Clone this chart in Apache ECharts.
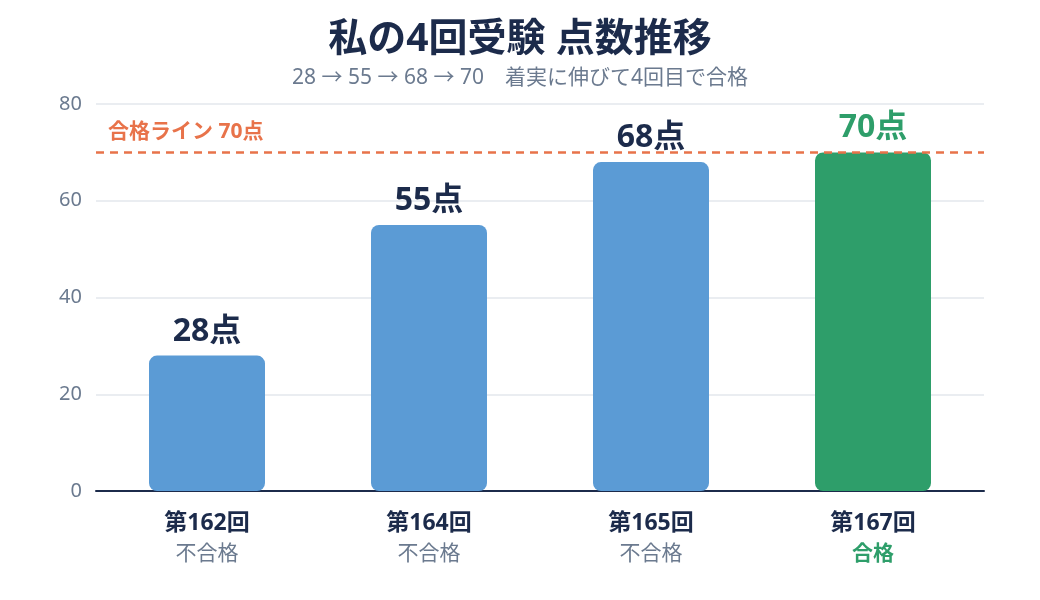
<!DOCTYPE html>
<html>
<head>
  <meta charset="utf-8" />
  <style>
    html, body { margin: 0; width: 100%; height: 100%; background: #fff; }
    #chart { width: 1040px; height: 600px; }
  </style>
  <script src="https://cdn.jsdelivr.net/npm/echarts@6/dist/echarts.min.js"></script>
</head>
<body>
  <div id="chart"></div>
  <script>
    const sessions = ['第162回', '第164回', '第165回', '第167回'];
    const results = ['不合格', '不合格', '不合格', '合格'];
    const scores = [28, 55, 68, 70];
    const passLine = 70;

    const navy = '#1c2b4b';
    const blue = '#5b9bd5';
    const green = '#2e9e6a';
    const orange = '#e8734a';
    const gray = '#6b7a8f';
    const font = '"Noto Sans", "Noto Sans CJK JP", sans-serif';

    const chart = echarts.init(document.getElementById('chart'));

    chart.setOption({
      animation: false,
      textStyle: { fontFamily: font },
      title: {
        text: '私の4回受験 点数推移',
        subtext: '28 → 55 → 68 → 70　着実に伸びて4回目で合格',
        left: 'center',
        top: 15,
        itemGap: 9,
        textStyle: { fontSize: 39, fontWeight: 'bold', color: navy, fontFamily: font },
        subtextStyle: { fontSize: 21, color: gray, fontFamily: font }
      },
      grid: { left: 96, right: 56, top: 104, bottom: 109 },
      xAxis: {
        type: 'category',
        data: sessions,
        axisLine: { lineStyle: { color: navy, width: 2 } },
        axisTick: { show: false },
        axisLabel: {
          margin: 16,
          interval: 0,
          formatter: function (v, i) {
            return '{s|' + v + '}\n' + (results[i] === '合格' ? '{p|' : '{f|') + results[i] + '}';
          },
          rich: {
            s: { fontSize: 23, fontWeight: 'bold', color: navy, lineHeight: 32, fontFamily: font },
            f: { fontSize: 21, color: gray, lineHeight: 30, fontFamily: font },
            p: { fontSize: 21, fontWeight: 'bold', color: green, lineHeight: 30, fontFamily: font }
          }
        }
      },
      yAxis: {
        type: 'value',
        min: 0,
        max: 80,
        interval: 20,
        axisLine: { show: false },
        axisTick: { show: false },
        axisLabel: { fontSize: 20, color: gray, margin: 14 },
        splitLine: { lineStyle: { color: '#e3e7ec', width: 1.5 } }
      },
      series: [{
        type: 'bar',
        barWidth: 116,
        data: scores.map(function (v, i) {
          const pass = v >= passLine;
          return {
            value: v,
            itemStyle: { color: pass ? green : blue, borderRadius: 8 },
            label: { color: pass ? green : navy }
          };
        }),
        label: {
          show: true,
          position: 'top',
          distance: 8,
          formatter: '{c}点',
          fontSize: 32,
          fontWeight: 'bold',
          fontFamily: font
        },
        markLine: {
          symbol: 'none',
          silent: true,
          lineStyle: { color: orange, type: [8, 6], width: 2.5 },
          label: {
            position: 'insideStartTop',
            formatter: '合格ライン 70点',
            color: orange,
            fontSize: 21,
            fontWeight: 'bold',
            fontFamily: font,
            distance: [12, 10]
          },
          data: [{ yAxis: passLine }]
        }
      }]
    });
  </script>
</body>
</html>
